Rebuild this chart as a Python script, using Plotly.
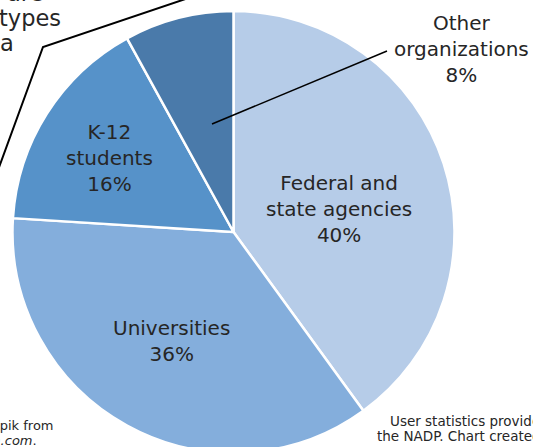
import plotly.graph_objects as go

labels = ["Federal and<br>state agencies", "Universities", "K-12<br>students", "Other<br>organizations"]
values = [40, 36, 16, 8]
colors = ["#b6cce8", "#84aedc", "#5692c9", "#4a7aaa"]

W, H = 533, 455
T, B = 11, 2
def px(x):
    return x / W
def py(y):
    return (H - B - y) / (H - T - B)

FONT = "DejaVu Sans"
cx, R = 233.5, 221

fig = go.Figure(go.Pie(
    labels=labels, values=values, sort=False, direction="clockwise", rotation=0,
    marker=dict(colors=colors, line=dict(color="white", width=2.5)),
    textinfo="none", hoverinfo="label+percent", showlegend=False,
    domain=dict(x=[px(cx - R), px(cx + R)], y=[0, 1]),
))

label_pos = [(339, 209), (171, 341), (109, 158), (461, 49)]
anns = []
for lab, v, (x, y) in zip(labels, values, label_pos):
    anns.append(dict(x=px(x), y=py(y), xref="paper", yref="paper",
                     text=f"{lab}<br>{v}%", showarrow=False,
                     xanchor="center", yanchor="middle", align="center",
                     font=dict(family=FONT, size=20, color="#262626")))

# partial text at the edges
for txt, xr, yc in [("are", 45, -7), ("types", 63, 18), ("a", 16, 43)]:
    anns.append(dict(x=px(xr), y=py(yc), xref="paper", yref="paper", text=txt,
                     showarrow=False, xanchor="right", yanchor="middle",
                     font=dict(family=FONT, size=22.5, color="#262626")))
for txt, xr, yc in [("Icons made by Freepik from", 56, 425), ("<i>www.flaticon.com</i>.", 39, 440)]:
    anns.append(dict(x=px(xr), y=py(yc), xref="paper", yref="paper", text=txt,
                     showarrow=False, xanchor="right", yanchor="middle",
                     font=dict(family=FONT, size=13, color="#262626")))
for txt, xl, yc in [("User statistics provided by", 388, 421), ("the NADP. Chart created by", 375, 436)]:
    anns.append(dict(x=px(xl), y=py(yc), xref="paper", yref="paper", text=txt,
                     showarrow=False, xanchor="left", yanchor="middle",
                     font=dict(family=FONT, size=13.5, color="#262626")))

shapes = [
    dict(type="line", xref="paper", yref="paper", x0=px(212), y0=py(124), x1=px(387), y1=py(51),
         line=dict(color="black", width=1.5)),
    dict(type="path", xref="paper", yref="paper",
         path=f"M {px(-6)},{py(181)} L {px(43)},{py(47)} L {px(230)},{py(-16)}",
         line=dict(color="black", width=2)),
]

fig.update_layout(
    width=W, height=H, margin=dict(l=0, r=0, t=T, b=B),
    paper_bgcolor="white", plot_bgcolor="white",
    annotations=anns, shapes=shapes,
)
fig.write_html("out.html", config={"displayModeBar": False},
               post_script="document.body.style.margin='0';document.body.style.overflow='hidden';")
